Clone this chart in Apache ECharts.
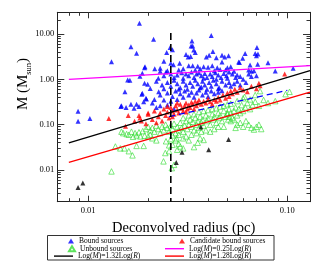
<!DOCTYPE html>
<html><head><meta charset="utf-8">
<script src="https://cdn.jsdelivr.net/npm/echarts@6/dist/echarts.min.js"></script>
<style>html,body{margin:0;padding:0;background:#fff}#c{width:322px;height:267px}</style>
</head><body><div id="c"></div>
<script>
// ---- axis ticks ----
const radiusTicks = [0.01, 0.1];
const radiusMinor = [0.008, 0.009, 0.02, 0.03, 0.04, 0.05, 0.06, 0.07, 0.08, 0.09];
const massTicks = [0.01, 0.1, 1, 10];
const massMinor = [0.003,0.004,0.005,0.006,0.007,0.008,0.009,0.02,0.03,0.04,0.05,0.06,0.07,0.08,0.09,
  0.2,0.3,0.4,0.5,0.6,0.7,0.8,0.9,2,3,4,5,6,7,8,9,20];

// ---- data [radius (pc), mass (Msun)] ----
const boundSources = [
[0.0181,17.2],[0.0213,7.6],[0.0164,5.25],[0.0175,3.74],[0.0131,2.45],[0.0415,9.2],[0.0332,7.0],[0.0335,5.4],[0.0329,5.4],[0.0339,4.4],
[0.0258,5.0],[0.0265,4.5],[0.0248,3.9],[0.0310,3.5],[0.0318,3.1],[0.0327,3.2],[0.0345,3.9],[0.0392,3.1],[0.0405,3.4],[0.0423,4.1],
[0.0440,3.0],[0.0470,3.4],[0.0485,3.1],[0.0507,3.3],[0.0614,3.7],[0.0597,2.9],[0.0704,5.0],[0.0690,3.7],[0.0712,3.6],[0.0700,3.3],
[0.0570,2.4],[0.0575,2.35],[0.0650,2.07],[0.0710,2.14],[0.0800,2.33],[0.0870,1.53],[0.1070,1.75],[0.0240,2.5],
[0.0192,1.8],[0.0193,1.9],[0.0216,1.7],[0.0230,1.75],[0.0268,2.1],[0.0288,2.25],[0.0260,2.25],[0.0320,2.0],[0.0335,2.0],[0.0355,1.95],
[0.0380,1.9],[0.0400,1.85],[0.0420,2.0],[0.0445,1.8],[0.0470,2.4],[0.0490,1.6],[0.0500,1.8],[0.0520,1.9],[0.0300,1.7],[0.0285,1.6],
[0.0250,1.55],[0.0230,1.5],[0.0345,1.6],[0.0365,1.7],[0.0430,1.55],[0.0460,1.65],[0.0540,1.5],[0.0640,1.6],[0.0660,1.5],[0.0680,1.55],[0.0187,1.36],
[0.0182,1.16],[0.0246,1.45],[0.0260,1.3],[0.0280,1.25],[0.0270,1.1],[0.0295,1.4],[0.0310,1.3],[0.0320,1.2],[0.0330,1.45],[0.0340,1.1],
[0.0350,1.3],[0.0360,1.4],[0.0370,1.2],[0.0385,1.35],[0.0395,1.1],[0.0410,1.3],[0.0420,1.15],[0.0435,1.4],[0.0450,1.25],[0.0465,1.1],
[0.0480,1.35],[0.0495,1.2],[0.0510,1.45],[0.0530,1.3],[0.0550,1.1],[0.0560,1.25],[0.0580,1.15],[0.0640,1.3],[0.0660,1.15],[0.0240,1.2],
[0.0225,1.05],[0.0300,1.05],[0.0380,1.05],[0.0440,1.0],[0.0500,1.05],[0.0600,1.0],[0.0700,1.2],
[0.0158,0.97],[0.0162,0.95],[0.0192,0.82],[0.0199,0.78],[0.0205,0.63],[0.0220,0.9],[0.0235,0.75],[0.0250,0.85],[0.0260,0.7],[0.0270,0.95],
[0.0280,0.8],[0.0290,0.65],[0.0300,0.9],[0.0310,0.75],[0.0315,0.6],[0.0325,0.85],[0.0335,0.7],[0.0345,0.95],[0.0355,0.8],[0.0365,0.65],
[0.0375,0.9],[0.0385,0.75],[0.0395,0.6],[0.0405,0.85],[0.0415,0.7],[0.0425,0.95],[0.0440,0.8],[0.0455,0.65],[0.0470,0.9],[0.0490,0.75],
[0.0510,0.85],[0.0520,0.7],[0.0540,0.8],[0.0560,0.9],[0.0580,0.75],[0.0620,0.85],[0.0285,0.6],[0.0240,0.62],[0.0370,0.68],[0.0450,0.62],
[0.0153,0.53],[0.0187,0.49],[0.0196,0.37],[0.0186,0.47],[0.0195,0.38],[0.0190,0.32],[0.0226,0.53],[0.0230,0.45],[0.0250,0.5],[0.0265,0.42],
[0.0275,0.55],[0.0290,0.48],[0.0300,0.4],[0.0305,0.55],[0.0320,0.45],[0.0330,0.52],[0.0340,0.4],[0.0350,0.5],[0.0360,0.58],[0.0375,0.45],
[0.0390,0.52],[0.0400,0.42],[0.0415,0.55],[0.0430,0.48],[0.0450,0.52],[0.0470,0.56],[0.0240,0.35],[0.0260,0.33],[0.0280,0.36],[0.0215,0.36],[0.0210,0.3],
[0.0164,0.28],[0.0175,0.28],[0.0147,0.26],[0.0146,0.25],[0.0155,0.24],[0.0170,0.23],[0.0180,0.25],[0.0230,0.26],[0.0250,0.27],[0.0270,0.22],
[0.0089,0.197],[0.0089,0.119],[0.0102,0.136],[0.0220,0.24]
];
const candidateSources = [
[0.0127,0.136],[0.0159,0.16],[0.0180,0.16],[0.0182,0.14],[0.0154,0.092],[0.0171,0.119],[0.0185,0.12],[0.0200,0.17],[0.0210,0.13],[0.0215,0.2],
[0.0225,0.15],[0.0230,0.18],[0.0235,0.12],[0.0240,0.22],[0.0245,0.16],[0.0250,0.19],[0.0255,0.14],[0.0260,0.24],[0.0265,0.2],[0.0270,0.17],
[0.0275,0.26],[0.0280,0.21],[0.0285,0.18],[0.0290,0.28],[0.0295,0.23],[0.0300,0.2],[0.0305,0.26],[0.0310,0.3],[0.0315,0.22],[0.0320,0.27],
[0.0325,0.24],[0.0330,0.31],[0.0335,0.28],[0.0340,0.22],[0.0345,0.33],[0.0350,0.26],[0.0355,0.3],[0.0360,0.35],[0.0370,0.28],[0.0380,0.33],
[0.0390,0.3],[0.0400,0.37],[0.0410,0.32],[0.0420,0.28],[0.0430,0.36],[0.0440,0.33],[0.0450,0.4],[0.0460,0.35],[0.0475,0.45],[0.0490,0.38],
[0.0500,0.5],[0.0510,0.42],[0.0520,0.55],[0.0530,0.48],[0.0545,0.6],[0.0560,0.52],[0.0580,0.65],[0.0600,0.58],[0.0630,0.53],[0.0660,0.7],
[0.0700,0.62],[0.0720,0.82],[0.0730,0.72],[0.0970,1.3],[0.0220,0.11],[0.0195,0.105],[0.0265,0.15],[0.0310,0.19],[0.0250,0.25],[0.0280,0.3],[0.0200,0.18]
];
const unboundSources = [
[0.0147,0.07],[0.0150,0.065],[0.0156,0.062],[0.0160,0.06],[0.0165,0.07],[0.0172,0.065],[0.0180,0.068],[0.0188,0.072],[0.0175,0.058],[0.0183,0.055],
[0.0192,0.057],[0.0168,0.054],[0.0137,0.033],[0.0145,0.03],[0.0152,0.03],[0.0160,0.026],[0.0167,0.021],[0.0175,0.034],[0.0190,0.034],[0.0131,0.0093],
[0.0239,0.0155],[0.0244,0.0237],[0.0263,0.011],[0.0270,0.013],[0.0246,0.043],[0.0255,0.035],[0.0265,0.036],[0.0260,0.048],[0.0275,0.045],[0.0278,0.05],
[0.0285,0.038],[0.0320,0.045],[0.0340,0.032],[0.0355,0.04],[0.0365,0.05],[0.0380,0.046],[0.0200,0.055],[0.0210,0.05],[0.0220,0.045],[0.0205,0.06],
[0.0280,0.028],[0.0290,0.033],[0.0300,0.03],[0.0255,0.026],
[0.0195,0.08],[0.0200,0.09],[0.0205,0.075],[0.0210,0.085],[0.0215,0.07],[0.0220,0.095],[0.0225,0.08],[0.0230,0.065],[0.0235,0.09],[0.0240,0.075],
[0.0245,0.1],[0.0250,0.085],[0.0255,0.07],[0.0260,0.095],[0.0265,0.08],[0.0270,0.105],[0.0275,0.065],[0.0280,0.09],[0.0285,0.075],[0.0290,0.11],
[0.0295,0.085],[0.0300,0.07],[0.0305,0.095],[0.0310,0.12],[0.0315,0.08],[0.0320,0.1],[0.0325,0.13],[0.0330,0.09],[0.0335,0.115],[0.0340,0.075],
[0.0345,0.14],[0.0350,0.1],[0.0355,0.12],[0.0360,0.085],[0.0365,0.15],[0.0370,0.11],[0.0375,0.13],[0.0380,0.095],[0.0390,0.16],[0.0395,0.12],
[0.0400,0.14],[0.0410,0.1],[0.0420,0.17],[0.0425,0.13],[0.0430,0.15],[0.0440,0.11],[0.0450,0.18],[0.0455,0.14],[0.0460,0.16],[0.0470,0.12],
[0.0480,0.2],[0.0490,0.15],[0.0500,0.17],[0.0505,0.13],[0.0510,0.22],[0.0520,0.18],[0.0530,0.14],[0.0540,0.2],[0.0550,0.24],[0.0560,0.16],
[0.0570,0.22],[0.0580,0.18],[0.0590,0.27],[0.0600,0.2],[0.0615,0.24],[0.0630,0.3],[0.0650,0.22],[0.0670,0.27],[0.0690,0.32],[0.0720,0.26],
[0.0730,0.55],[0.0690,0.45],[0.0610,0.41],[0.0650,0.36],[0.0870,0.33],[0.0980,0.47],[0.1026,0.53],[0.0800,0.3],[0.0760,0.35],[0.0560,0.33],[0.0600,0.38],
[0.0500,0.18],[0.0510,0.15],[0.0520,0.12],[0.0540,0.13],[0.0560,0.10],[0.0580,0.11],[0.0600,0.09],[0.0620,0.12],[0.0640,0.1],[0.0660,0.085],
[0.0680,0.078],[0.0700,0.09],[0.0720,0.1],[0.0740,0.08],[0.0550,0.085],[0.0480,0.09],
[0.0310,0.055],[0.0330,0.06],[0.0350,0.065],[0.0370,0.07],[0.0390,0.075],[0.0410,0.07],[0.0430,0.08],[0.0450,0.09],[0.0300,0.05],[0.0285,0.06],[0.0265,0.058],
[0.0300,0.14],[0.0320,0.16],[0.0340,0.17],[0.0360,0.19],[0.0380,0.2],[0.0400,0.21],[0.0420,0.22],[0.0440,0.23],[0.0460,0.25],[0.0480,0.26],[0.0500,0.28],[0.0520,0.29]
];
const otherSources = [[0.0089,0.0041],[0.0094,0.0052],[0.0277,0.0147],[0.0296,0.0245],[0.0368,0.089],[0.0403,0.028],[0.0507,0.047]];

// fitted relations (endpoints)
const fit132 = [[0.008,0.0394],[0.13,1.56]];
const fit025 = [[0.008,1.0],[0.13,2.0]];
const fit128 = [[0.008,0.0147],[0.13,0.522]];
const boundFit = [[0.0255,0.15],[0.1,0.57]];
const radiusCut = [[0.026,10.5],[0.026,0.002]];

const names = ['Bound sources','Unbound sources','Candidate bound sources',
  'Log(M)=1.32Log(R)','Log(M)=0.25Log(R)','Log(M)=1.28Log(R)'];

const SERIF = '"Liberation Serif","DejaVu Serif",serif';
const X = {min:0.007, max:0.13}, Y = {min:0.002, max:30};
function xax(pos, vals, len, showLine, labels){
  return {type:'log', logBase:10, position:pos, min:X.min, max:X.max, gridIndex:0,
    axisLine:{show:showLine, onZero:false, lineStyle:{color:'#222', width:1}},
    axisTick:{show:true, inside:true, length:len, customValues:vals, lineStyle:{color:'#333', width:1}},
    axisLabel:{show:labels, customValues:radiusTicks, margin:5, color:'#000', fontFamily:SERIF, fontSize:8.5,
      formatter:v=>Number(v).toFixed(2)},
    splitLine:{show:false}, minorTick:{show:false},
    name: labels ? 'Deconvolved radius (pc)' : '', nameLocation:'middle', nameGap:12,
    nameTextStyle:{fontFamily:SERIF, fontSize:14.5, color:'#000'}};
}
function yax(pos, vals, len, showLine, labels){
  return {type:'log', logBase:10, position:pos, min:Y.min, max:Y.max, gridIndex:0,
    axisLine:{show:showLine, onZero:false, lineStyle:{color:'#222', width:1}},
    axisTick:{show:true, inside:true, length:len, customValues:vals, lineStyle:{color:'#333', width:1}},
    axisLabel:{show:labels, customValues:massTicks, margin:3, color:'#000', fontFamily:SERIF, fontSize:8.5,
      formatter:v=>Number(v).toFixed(2)},
    splitLine:{show:false}, minorTick:{show:false}};
}
const rich = {i:{fontStyle:'italic', fontFamily:SERIF, fontSize:7.5, color:'#000'}};
function legend(name, left, cy, w, isLine){
  return {data:[isLine ? {name:name, icon:'rect'} : name], left:left, top:cy-3.5, padding:0,
    itemWidth:w, itemHeight:isLine ? 1.4 : 5, selectedMode:false,
    textStyle:{fontFamily:SERIF, fontSize:7.5, color:'#000', lineHeight:7, rich:rich},
    formatter:n=>n.replace(/\(M\)/,'({i|M})').replace(/\(R\)/,'({i|R})')};
}

const chart = echarts.init(document.getElementById('c'), null, {renderer:'canvas'});
chart.setOption({
  animation:false,
  grid:{left:57.3, right:12, top:12.3, bottom:65.3, containLabel:false},
  xAxis:[xax('bottom', radiusTicks, 6, true, true), xax('bottom', radiusMinor, 3.5, false, false),
         xax('top', radiusTicks, 6, true, false), xax('top', radiusMinor, 3.5, false, false)],
  yAxis:[yax('left', massTicks, 7, true, true), yax('left', massMinor, 3.5, false, false),
         yax('right', massTicks, 7, true, false), yax('right', massMinor, 3.5, false, false)],
  legend:[legend(names[0], 68, 240.5, 6, false), legend(names[1], 68, 248.2, 6, false), legend(names[3], 54, 255.6, 19, true),
          legend(names[2], 179, 240.5, 6, false), legend(names[4], 165, 248.2, 19, true), legend(names[5], 165, 255.6, 19, true)],
  graphic:[
    {type:'rect', shape:{x:47.5, y:235.5, width:226.5, height:24.5}, style:{fill:null, stroke:'#333', lineWidth:1}, silent:true},
    {type:'text', x:23, y:84, rotation:Math.PI/2, silent:true,
      style:{text:'{m|M (M}{s|sun}{m|)}', align:'center', verticalAlign:'middle',
        rich:{m:{fontFamily:SERIF, fontSize:15, lineHeight:20, fill:'#000'},
              s:{fontFamily:SERIF, fontSize:8.5, lineHeight:8, verticalAlign:'bottom', fill:'#000'}}}}
  ],
  series:[
    {name:names[1], type:'scatter', data:unboundSources, symbol:'triangle', symbolSize:5.5,
      itemStyle:{color:'rgba(0,0,0,0)', borderColor:'#33dd33', borderWidth:0.8}, z:2},
    {name:names[0], type:'scatter', data:boundSources, symbol:'triangle', symbolSize:5,
      itemStyle:{color:'#0000ff'}, z:3},
    {name:names[2], type:'scatter', data:candidateSources, symbol:'triangle', symbolSize:5,
      itemStyle:{color:'#ff0000'}, z:4},
    {name:'other', type:'scatter', data:otherSources, symbol:'triangle', symbolSize:5,
      itemStyle:{color:'#000000'}, z:4},
    {name:'bound fit', type:'line', data:boundFit, symbol:'none', lineStyle:{color:'#0000ff', width:1.3, type:[6,4]}, z:5},
    {name:names[3], type:'line', data:fit132, symbol:'none', lineStyle:{color:'#000', width:1.3}, itemStyle:{color:'#000'}, z:6},
    {name:names[4], type:'line', data:fit025, symbol:'none', lineStyle:{color:'#ff00ff', width:1.3}, itemStyle:{color:'#ff00ff'}, z:6},
    {name:names[5], type:'line', data:fit128, symbol:'none', lineStyle:{color:'#ff0000', width:1.3}, itemStyle:{color:'#ff0000'}, z:6},
    {name:'cut', type:'line', data:radiusCut, symbol:'none', lineStyle:{color:'#000', width:1.6, type:[7,4]}, z:6}
  ]
});
</script></body></html>
